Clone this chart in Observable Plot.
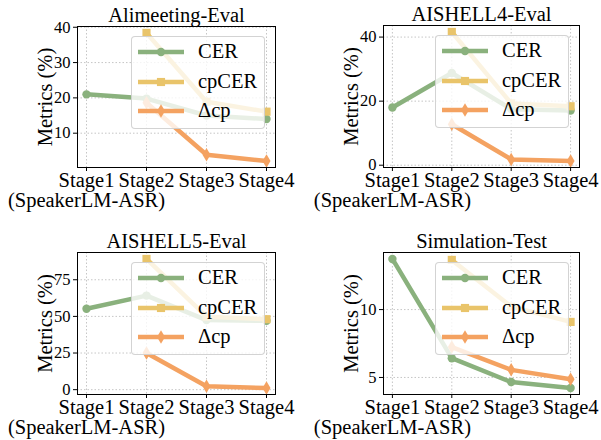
<!DOCTYPE html>
<html><head><meta charset="utf-8">
<script src="https://cdn.jsdelivr.net/npm/d3@7"></script>
<script src="https://cdn.jsdelivr.net/npm/@observablehq/plot@0.6"></script>
<style>
body{margin:0;background:#fff;}
#grid{display:grid;grid-template-columns:300px 301px;grid-template-rows:220px 220px;width:601px;height:440px;}
.panel{position:relative;width:100%;height:220px;}
.panel svg{display:block;}
.legend{position:absolute;background:rgba(255,255,255,0.8);border:1px solid rgba(200,200,200,0.8);border-radius:4px;box-sizing:border-box;font-family:"Liberation Serif","Times New Roman",serif;font-size:20.5px;color:#000;}
.legend .row{position:absolute;left:0;height:20px;}
.legend .row svg{position:absolute;left:6px;top:0;}
.legend .row span{position:absolute;left:66px;top:-3px;white-space:nowrap;line-height:24px;}
</style></head><body><div id="grid"></div>
<script>
// ---- data ----
const stages = ["Stage1\n(SpeakerLM-ASR)", "Stage2", "Stage3", "Stage4"];
const seriesNames = ["CER", "cpCER", "Δcp"];
const seriesColors = ["#8AB17D", "#E9C46A", "#F4A261"];

const titles = ["Alimeeting-Eval", "AISHELL4-Eval", "AISHELL5-Eval", "Simulation-Test"];

const aliCER   = [21.0, 19.8, 15.0, 14.0];
const aliCpCER = [null, 38.4, 18.9, 16.1];
const aliDcp   = [null, 18.6, 3.9, 2.1];
const aliTicks = [10, 20, 30, 40];

const a4CER    = [18.0, 28.8, 17.5, 17.1];
const a4CpCER  = [null, 41.6, 19.3, 18.4];
const a4Dcp    = [null, 12.8, 1.8, 1.3];
const a4Ticks  = [0, 20, 40];

const a5CER    = [55.2, 64.2, 47.5, 47.0];
const a5CpCER  = [null, 89.2, 49.8, 48.1];
const a5Dcp    = [null, 25.0, 2.3, 1.1];
const a5Ticks  = [0, 25, 50, 75];

const simCER   = [13.73, 6.42, 4.66, 4.22];
const simCpCER = [null, 13.66, 10.22, 9.09];
const simDcp   = [null, 7.24, 5.56, 4.87];
const simTicks = [5, 10];

// ---- layout ----
const font = '"Liberation Serif","Times New Roman",serif';
const thinDiamond = {
  draw(context, size) {
    const r = Math.sqrt(size / Math.PI);
    const h = r * 1.35, w = r * 0.8;
    context.moveTo(0, -h); context.lineTo(w, 0); context.lineTo(0, h); context.lineTo(-w, 0); context.closePath();
  }
};
const symbols = ["circle", "square", thinDiamond];
const symbolR = [4.2, 4.6, 5];

const panels = [
  {title: titles[0], values: [aliCER, aliCpCER, aliDcp], ticks: aliTicks, width: 300, ml: 77, mr: 25, mt: 26, mb: 53},
  {title: titles[1], values: [a4CER, a4CpCER, a4Dcp], ticks: a4Ticks, width: 301, ml: 83, mr: 22, mt: 25, mb: 53},
  {title: titles[2], values: [a5CER, a5CpCER, a5Dcp], ticks: a5Ticks, width: 300, ml: 77, mr: 25, mt: 32, mb: 46},
  {title: titles[3], values: [simCER, simCpCER, simDcp], ticks: simTicks, width: 301, ml: 83, mr: 22, mt: 32, mb: 46}
];

const grid = document.getElementById("grid");
for (const p of panels) {
  const all = p.values.flat().filter(v => v != null);
  const lo = d3.min(all), hi = d3.max(all), pad = 0.05 * (hi - lo);
  const seriesMarks = [];
  p.values.forEach((vals, k) => {
    const data = vals.map((v, i) => ({x: i, y: v})).filter(d => d.y != null);
    seriesMarks.push(Plot.line(data, {x: "x", y: "y", stroke: seriesColors[k], strokeWidth: 4.5, strokeLinejoin: "round"}));
    seriesMarks.push(Plot.dot(data, {x: "x", y: "y", fill: seriesColors[k], symbol: symbols[k], r: symbolR[k]}));
  });
  const chart = Plot.plot({
    width: p.width, height: 220,
    marginLeft: p.ml, marginRight: p.mr, marginTop: p.mt, marginBottom: p.mb,
    style: {fontFamily: font, background: "white", color: "black"},
    x: {domain: [-0.15, 3.15]},
    y: {domain: [lo - pad, hi + pad]},
    marks: [
      Plot.gridX([0, 1, 2, 3], {stroke: "#b8b8b8", strokeOpacity: 0.8, strokeDasharray: "1.5,2"}),
      Plot.gridY(p.ticks, {stroke: "#b8b8b8", strokeOpacity: 0.8, strokeDasharray: "1.5,2"}),
      ...seriesMarks,
      Plot.frame({stroke: "black", strokeWidth: 1}),
      Plot.axisX([0, 1, 2, 3], {tickFormat: i => stages[i], fontSize: 20.5, tickSize: 4, tickPadding: 1, lineHeight: 0.97, label: null}),
      Plot.axisY(p.ticks, {fontSize: 16.5, tickSize: 4, tickPadding: 3, label: null}),
      Plot.text([p.title], {frameAnchor: "top", dy: -5, lineAnchor: "bottom", fontSize: 20.5}),
      Plot.text(["Metrics (%)"], {frameAnchor: "left", textAnchor: "middle", rotate: -90, dx: -32, fontSize: 20.5, lineAnchor: "middle"})
    ]
  });
  const div = document.createElement("div");
  div.className = "panel";
  div.appendChild(chart);
  // legend
  const lg = document.createElement("div");
  lg.className = "legend";
  const lw = 134, lh = 93;
  lg.style.width = lw + "px"; lg.style.height = lh + "px";
  lg.style.left = (p.width - p.mr - 10 - lw) + "px";
  lg.style.top = (p.mt + 10) + "px";
  const rowCenters = [15, 45, 74];
  seriesNames.forEach((name, k) => {
    const row = document.createElement("div");
    row.className = "row";
    row.style.top = (rowCenters[k] - 10) + "px";
    row.style.width = lw + "px";
    const svg = d3.create("svg").attr("width", 46).attr("height", 20);
    svg.append("line").attr("x1", 0).attr("x2", 46).attr("y1", 10).attr("y2", 10)
      .attr("stroke", seriesColors[k]).attr("stroke-width", 4.5);
    const sym = typeof symbols[k] === "string" ? (symbols[k] === "circle" ? d3.symbolCircle : d3.symbolSquare) : symbols[k];
    svg.append("path").attr("transform", "translate(23,10)")
      .attr("d", d3.symbol(sym, symbolR[k] * symbolR[k] * Math.PI)())
      .attr("fill", seriesColors[k]);
    row.appendChild(svg.node());
    const sp = document.createElement("span");
    sp.textContent = name;
    row.appendChild(sp);
    lg.appendChild(row);
  });
  div.appendChild(lg);
  grid.appendChild(div);
}
</script>
</body></html>
